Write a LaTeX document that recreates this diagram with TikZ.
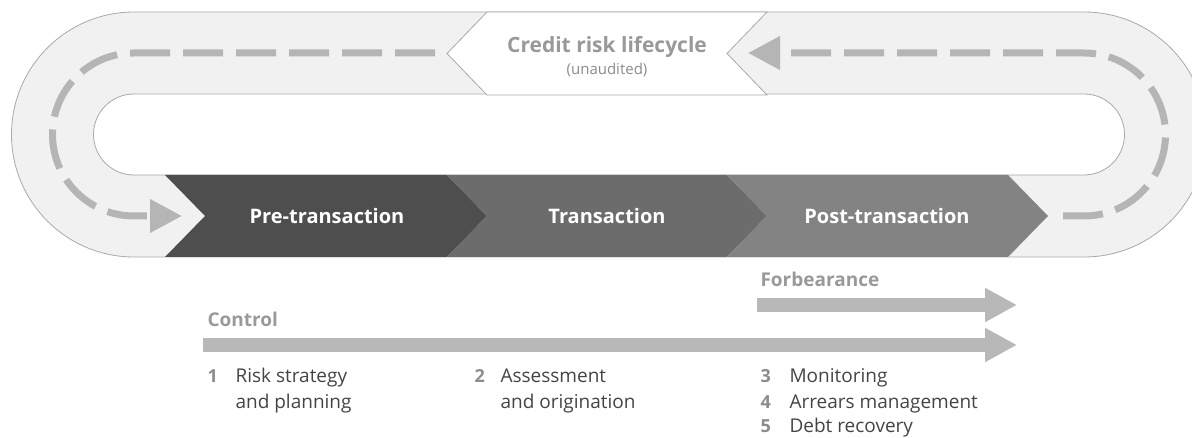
\documentclass[tikz,border=0pt]{standalone}
\usepackage{fontspec}
\setmainfont{Open Sans}
\usetikzlibrary{positioning, arrows.meta}

\definecolor{track}{HTML}{F1F1F1}
\definecolor{trackline}{HTML}{A9A9A9}
\definecolor{dashgray}{HTML}{B5B5B5}
\definecolor{bargray}{HTML}{B8B8B8}
\definecolor{stageA}{HTML}{4E4E4E}
\definecolor{stageB}{HTML}{6C6C6C}
\definecolor{stageC}{HTML}{838383}
\definecolor{headgray}{HTML}{999999}
\definecolor{numgray}{HTML}{8C8C8C}
\definecolor{itemgray}{HTML}{444444}

\begin{document}
\begin{tikzpicture}[x=1pt, y=1pt,
    road/.style={draw=trackline, fill=track, line width=0.8pt, even odd rule},
    loop/.style={draw=dashgray, line width=7pt, dash pattern=on 40pt off 13pt, -{Triangle[length=32pt, width=32pt]}},
    bar/.style={draw=bargray, line width=14pt, -{Triangle[length=32pt, width=32pt]}},
    stage/.style={text=white, anchor=base, font=\bfseries\fontsize{20}{24}\selectfont},
    head/.style={text=headgray, anchor=base west, font=\bfseries\fontsize{19}{23}\selectfont},
    num/.style={text=numgray, anchor=base west, font=\bfseries\fontsize{18}{23}\selectfont},
    item/.style={text=itemgray, anchor=base west, font=\fontsize{19}{23}\selectfont}]
    \useasboundingbox (0,0) rectangle (1192,438);
    \clip (0,0) rectangle (1192,438);

    % track
    \path[road] (134,426) -- (1084,426) arc[start angle=90, end angle=-90, radius=122.5] -- (134,181) arc[start angle=270, end angle=90, radius=122.5] -- cycle
        (134,344) -- (1084,344) arc[start angle=90, end angle=-90, radius=40.5] -- (134,263) arc[start angle=270, end angle=90, radius=40.5] -- cycle;

    % stages
    \fill[stageA] (165,263) -- (447,263) -- (487,222) -- (447,181) -- (165,181) -- (205,222) -- cycle;
    \fill[stageB] (447,263) -- (727,263) -- (767,222) -- (727,181) -- (447,181) -- (487,222) -- cycle;
    \fill[stageC] (727,263) -- (1008,263) -- (1048,222) -- (1008,181) -- (727,181) -- (767,222) -- cycle;
    \node[stage] (pre) at (327,214) {Pre-transaction};
    \node[stage] (trans) at (607,214) {Transaction};
    \node[stage] (post) at (887,214) {Post-transaction};

    % banner
    \filldraw[draw=trackline, fill=white, line width=0.8pt] (487,426) -- (767,426) -- (727,384.5) -- (767,343) -- (487,343) -- (447,384.5) -- cycle;
    \node[text=headgray, anchor=base, font=\bfseries\fontsize{21}{25}\selectfont] (life) at (607,385) {Credit risk lifecycle};
    \node[text=numgray, anchor=base, font=\fontsize{15}{18}\selectfont] (unaud) at (607,363) {(unaudited)};

    \coordinate (lifeW) at (447,385);
    \coordinate (lifeE) at (727,385);
    \coordinate (preW) at (205,222);
    \coordinate (postE) at (1048,222);

    % loops
    \draw[loop, shorten <=12pt, shorten >=23pt] (lifeW) -- (134,385) arc[start angle=90, end angle=270, radius=81.5] -- (preW);
    \draw[loop, shorten <=15pt, shorten >=21pt] (postE) -- (1084,222) arc[start angle=-90, end angle=90, radius=81.5] -- (lifeE);

    % bars
    \node[head] (forb) at (757,151) {Forbearance};
    \coordinate (forbS) at (757,133);
    \coordinate (forbE) at (1017,133);
    \draw[bar] (forbS) -- (forbE);
    \node[head] (ctrl) at (204,111) {Control};
    \coordinate (ctrlS) at (203,93);
    \coordinate (ctrlE) at (1017,93);
    \draw[bar] (ctrlS) -- (ctrlE);

    % steps
    \node[num] (n1) at (204,55) {1};
    \node[item] (t1a) at (232,55) {Risk strategy};
    \node[item] (t1b) at (232,29) {and planning};
    \node[num] (n2) at (471,55) {2};
    \node[item] (t2a) at (497,55) {Assessment};
    \node[item] (t2b) at (497,29) {and origination};
    \node[num] (n3) at (757,55) {3};
    \node[item] (t3) at (786,55) {Monitoring};
    \node[num] (n4) at (757,29) {4};
    \node[item] (t4) at (786,29) {Arrears management};
    \node[num] (n5) at (757,5) {5};
    \node[item] (t5) at (786,5) {Debt recovery};
\end{tikzpicture}
\end{document}
